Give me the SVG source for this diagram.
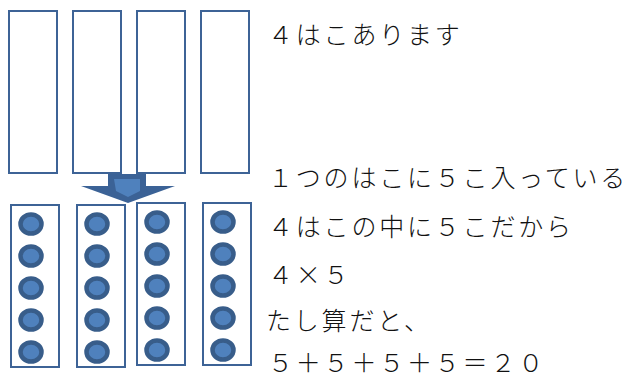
<svg xmlns="http://www.w3.org/2000/svg" width="627" height="380" viewBox="0 0 627 380">
<defs>
<style>
.box{fill:#fff;stroke:#3d6396;stroke-width:2}
.ball{fill:#4f81bd;stroke:#385d8a;stroke-width:4.5}
.t{font-family:"Noto Sans CJK JP","Noto Sans CJK SC",sans-serif;font-size:25px;letter-spacing:2.8px;fill:#111;font-weight:300}
</style>
<g id="b" class="ball-group"><ellipse class="ball" cx="0" cy="0" rx="10.5" ry="9.5"/></g>
</defs>
<rect width="627" height="380" fill="#fff"/>
<g id="top-boxes">
<rect id="top1" class="box" x="9" y="11" width="48" height="162"/>
<rect id="top2" class="box" x="73" y="11" width="48" height="162"/>
<rect id="top3" class="box" x="137" y="11" width="48" height="162"/>
<rect id="top4" class="box" x="201" y="11" width="48" height="162"/>
</g>
<g id="connectors">
<path d="M108,174 H146 V186 H175 L128,203 L81,186 H108 Z" fill="#3b6296"/>
<path d="M114,179 H140 V191 L128,197 L116,191 Z" fill="#4f81bd"/>
</g>
<g id="bottom1">
<rect class="box" x="11" y="205" width="48" height="162"/>
<use href="#b" x="31" y="224"/><use href="#b" x="31" y="256"/><use href="#b" x="31" y="288"/><use href="#b" x="31" y="320"/><use href="#b" x="31" y="352"/>
</g>
<g id="bottom2">
<rect class="box" x="77" y="205" width="48" height="162"/>
<use href="#b" x="97" y="224"/><use href="#b" x="97" y="256"/><use href="#b" x="97" y="288"/><use href="#b" x="97" y="320"/><use href="#b" x="97" y="352"/>
</g>
<g id="bottom3">
<rect class="box" x="137" y="203" width="48" height="162"/>
<use href="#b" x="157" y="222"/><use href="#b" x="157" y="254"/><use href="#b" x="157" y="286"/><use href="#b" x="157" y="318"/><use href="#b" x="157" y="350"/>
</g>
<g id="bottom4">
<rect class="box" x="203" y="203" width="48" height="162"/>
<use href="#b" x="223" y="222"/><use href="#b" x="223" y="254"/><use href="#b" x="223" y="286"/><use href="#b" x="223" y="318"/><use href="#b" x="223" y="350"/>
</g>
<g id="texts">
<text class="t" x="268" y="44">４はこあります</text>
<text class="t" x="268" y="187">１つのはこに５こ入っている</text>
<text class="t" x="268" y="236">４はこの中に５こだから</text>
<text class="t" x="268" y="284">４×５</text>
<text class="t" x="266" y="330">たし算だと、</text>
<text class="t" x="268" y="372">５＋５＋５＋５＝２０</text>
</g>
</svg>
